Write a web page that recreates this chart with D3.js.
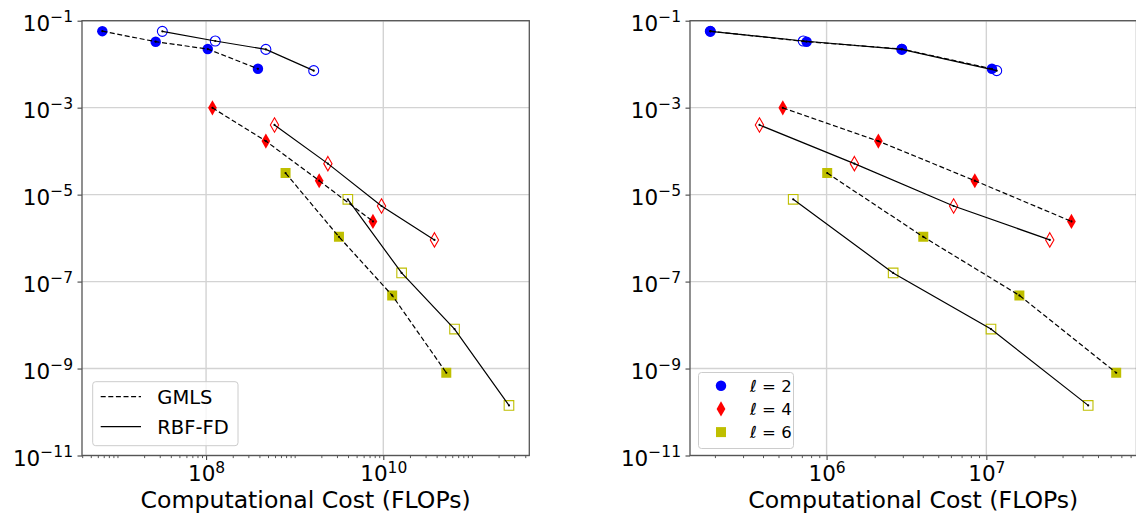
<!DOCTYPE html>
<html>
<head>
<meta charset="utf-8">
<script src="https://cdn.jsdelivr.net/npm/d3@7"></script>
<style>
  html, body { margin: 0; padding: 0; background: #fff; }
  svg { display: block; font-family: "DejaVu Sans", sans-serif; }
</style>
</head>
<body>
<svg id="chart" width="1136" height="514"></svg>
<script>
// ---------------- DATA ----------------
// error values (shared by both panels)
const errL2GMLS = [0.0575, 0.0329, 0.0223, 0.00783];
const errL2RBF  = [0.0569, 0.0341, 0.0219, 0.0071];
const errL4GMLS = [9.9e-4, 1.7e-4, 2.09e-5, 2.42e-6];
const errL4RBF  = [4.0e-4, 5.16e-5, 5.48e-6, 9.08e-7];
const errL6GMLS = [3.13e-5, 1.07e-6, 4.81e-8, 8.0e-10];
const errL6RBF  = [7.8e-6, 1.58e-7, 8.1e-9, 1.42e-10];

// left panel: computational cost (FLOPs)
const leftL2GMLS = [6.75e6, 2.70e7, 1.045e8, 3.85e8];
const leftL2RBF  = [3.21e7, 1.27e8, 4.73e8, 1.64e9];
const leftL4GMLS = [1.18e8, 4.73e8, 1.89e9, 7.64e9];
const leftL4RBF  = [5.92e8, 2.37e9, 9.55e9, 3.78e10];
const leftL6GMLS = [7.89e8, 3.16e9, 1.26e10, 5.14e10];
const leftL6RBF  = [3.98e9, 1.61e10, 6.37e10, 2.62e11];

// right panel: computational cost (FLOPs)
const rightL2GMLS = [1.871e5, 7.50e5, 2.958e6, 1.084e7];
const rightL2RBF  = [1.871e5, 7.145e5, 2.958e6, 1.161e7];
const rightL4GMLS = [5.32e5, 2.109e6, 8.47e6, 3.41e7];
const rightL4RBF  = [3.80e5, 1.493e6, 6.24e6, 2.495e7];
const rightL6GMLS = [1.009e6, 4.03e6, 1.61e7, 6.50e7];
const rightL6RBF  = [6.18e5, 2.61e6, 1.069e7, 4.34e7];

const yTickExps = [-1, -3, -5, -7, -9, -11];
const leftXTickExps = [8, 10];
const rightXTickExps = [6, 7];
const xLabel = "Computational Cost (FLOPs)";
const methodNames = ["GMLS", "RBF-FD"];
const levelNames = ["2", "4", "6"];

// ---------------- STYLE ----------------
const colors = { l2: "#0000ff", l4: "#ff0000", l6: "#bfbf00" };
const axTop = 20.7, axBottom = 455.5;

const svg = d3.select("#chart");

function seriesFor(xs) {
  return [
    { x: xs.L2GMLS, y: errL2GMLS, shape: "circle", color: colors.l2, filled: true,  dashed: true },
    { x: xs.L2RBF,  y: errL2RBF,  shape: "circle", color: colors.l2, filled: false, dashed: false },
    { x: xs.L4GMLS, y: errL4GMLS, shape: "diamond", color: colors.l4, filled: true,  dashed: true },
    { x: xs.L4RBF,  y: errL4RBF,  shape: "diamond", color: colors.l4, filled: false, dashed: false },
    { x: xs.L6GMLS, y: errL6GMLS, shape: "square", color: colors.l6, filled: true,  dashed: true },
    { x: xs.L6RBF,  y: errL6RBF,  shape: "square", color: colors.l6, filled: false, dashed: false }
  ];
}

const symbolTypes = { circle: d3.symbolCircle, diamond: d3.symbolDiamond, square: d3.symbolSquare };
const symbolSizes = { circle: 86, diamond: 66, square: 100 };
const symbolSizesOpen = { circle: 78, diamond: 60, square: 92 };

function drawPanel(opts) {
  const series = seriesFor(opts.xs);
  const allX = series.flatMap(s => s.x);
  const lmin = Math.log10(d3.min(allX)), lmax = Math.log10(d3.max(allX));
  const pad = (lmax - lmin) * 0.05;
  const x = d3.scaleLog().domain([Math.pow(10, lmin - pad), Math.pow(10, lmax + pad)]).range([opts.x0, opts.x1]);
  const y = d3.scaleLog().domain([1e-11, 1e-1]).range([axBottom, axTop]);

  const g = svg.append("g");
  const clipId = "clip" + opts.id;
  svg.append("clipPath").attr("id", clipId).append("rect")
    .attr("x", opts.x0).attr("y", axTop).attr("width", opts.x1 - opts.x0).attr("height", axBottom - axTop);

  // grid
  const majorX = opts.xTickExps.map(e => Math.pow(10, e));
  const yTicks = yTickExps.map(e => Math.pow(10, e));
  g.append("g").selectAll("line").data(majorX).join("line")
    .attr("x1", d => x(d)).attr("x2", d => x(d)).attr("y1", axTop).attr("y2", axBottom)
    .attr("stroke", "#d3d3d3").attr("stroke-width", 1.4);
  g.append("g").selectAll("line").data(yTicks).join("line")
    .attr("x1", opts.x0).attr("x2", opts.x1).attr("y1", d => y(d)).attr("y2", d => y(d))
    .attr("stroke", "#d3d3d3").attr("stroke-width", 1.4);

  // minor x ticks
  const [d0, d1] = x.domain();
  const minor = [];
  for (let n = Math.floor(Math.log10(d0)); n <= Math.ceil(Math.log10(d1)); n++) {
    for (let k = 1; k <= 9; k++) {
      const v = k * Math.pow(10, n);
      if (v >= d0 && v <= d1 && !(k === 1 && opts.xTickExps.includes(n))) minor.push(v);
    }
  }
  const axMinor = d3.axisBottom(x).tickValues(minor).tickSize(2.6).tickFormat("");
  const gm = g.append("g").attr("transform", `translate(0,${axBottom})`).call(axMinor);
  gm.select(".domain").remove();
  gm.selectAll("line").attr("stroke", "#444").attr("stroke-width", 0.9);

  // major x ticks
  const axX = d3.axisBottom(x).tickValues(majorX).tickSize(4.5).tickFormat("");
  const gx = g.append("g").attr("transform", `translate(0,${axBottom})`).call(axX);
  gx.select(".domain").remove();
  gx.selectAll("line").attr("stroke", "#444").attr("stroke-width", 1.1);
  gx.selectAll(".tick").each(function(d) {
    const t = d3.select(this).append("text")
      .attr("y", 25.5).attr("text-anchor", "middle").attr("fill", "#000")
      .style("font-family", "DejaVu Sans").style("font-size", "21.5px");
    t.append("tspan").text("10");
    t.append("tspan").attr("dy", -8).style("font-size", "15.5px")
      .text(String(Math.round(Math.log10(d))).replace("-", "\u2212"));
  });

  // y ticks
  const axY = d3.axisLeft(y).tickValues(yTicks).tickSize(4.5).tickFormat("");
  const gy = g.append("g").attr("transform", `translate(${opts.x0},0)`).call(axY);
  gy.select(".domain").remove();
  gy.selectAll("line").attr("stroke", "#444").attr("stroke-width", 1.1);
  gy.selectAll(".tick").each(function(d) {
    const t = d3.select(this).append("text")
      .attr("x", -9).attr("y", 9.5).attr("text-anchor", "end").attr("fill", "#000")
      .style("font-family", "DejaVu Sans").style("font-size", "21.5px");
    t.append("tspan").text("10");
    t.append("tspan").attr("dy", -8.5).style("font-size", "15.5px")
      .text(String(Math.round(Math.log10(d))).replace("-", "\u2212"));
  });

  // markers
  const pg = g.append("g").attr("clip-path", `url(#${clipId})`);
  series.forEach(s => {
    const sym = d3.symbol().type(symbolTypes[s.shape]).size(s.filled ? symbolSizes[s.shape] : symbolSizesOpen[s.shape]);
    pg.append("g").selectAll("path").data(s.x.map((xv, i) => [xv, s.y[i]])).join("path")
      .attr("transform", d => `translate(${x(d[0])},${y(d[1])})`)
      .attr("d", sym())
      .attr("fill", s.filled ? s.color : "none")
      .attr("stroke", s.color)
      .attr("stroke-width", s.filled ? 0 : 1.1);
  });
  // lines on top
  const line = d3.line().x(d => x(d[0])).y(d => y(d[1]));
  series.forEach(s => {
    const pts = s.x.map((xv, i) => [xv, s.y[i]]);
    pg.append("path").datum(pts).attr("d", line)
      .attr("fill", "none").attr("stroke", "#000").attr("stroke-width", 1.2)
      .attr("stroke-dasharray", s.dashed ? "5,2.6" : null);
    pg.append("g").selectAll("circle").data(pts).join("circle")
      .attr("cx", d => x(d[0])).attr("cy", d => y(d[1])).attr("r", 1.1).attr("fill", "#000");
  });

  // spines
  g.append("rect").attr("x", opts.x0).attr("y", axTop)
    .attr("width", opts.x1 - opts.x0).attr("height", axBottom - axTop)
    .attr("fill", "none").attr("stroke", "#555").attr("stroke-width", 1.3);

  // x label
  g.append("text").attr("x", (opts.x0 + opts.x1) / 2).attr("y", 508)
    .attr("text-anchor", "middle").style("font-size", "23.6px").attr("fill", "#000")
    .text(xLabel);
  return { x, y, g };
}

drawPanel({
  id: "L", x0: 82, x1: 529.3, xTickExps: leftXTickExps,
  xs: { L2GMLS: leftL2GMLS, L2RBF: leftL2RBF, L4GMLS: leftL4GMLS, L4RBF: leftL4RBF, L6GMLS: leftL6GMLS, L6RBF: leftL6RBF }
});
drawPanel({
  id: "R", x0: 690, x1: 1136.5, xTickExps: rightXTickExps,
  xs: { L2GMLS: rightL2GMLS, L2RBF: rightL2RBF, L4GMLS: rightL4GMLS, L4RBF: rightL4RBF, L6GMLS: rightL6GMLS, L6RBF: rightL6RBF }
});

// ---------------- LEGENDS ----------------
// left: line styles
const lg = svg.append("g");
lg.append("rect").attr("x", 92.7).attr("y", 381.7).attr("width", 145.3).attr("height", 64)
  .attr("rx", 3).attr("fill", "#fff").attr("fill-opacity", 0.8).attr("stroke", "#cccccc").attr("stroke-width", 1);
methodNames.forEach((name, i) => {
  const cy = 396.7 + i * 30;
  lg.append("line").attr("x1", 100.7).attr("x2", 141).attr("y1", cy).attr("y2", cy)
    .attr("stroke", "#000").attr("stroke-width", 1.2).attr("stroke-dasharray", i === 0 ? "5,2.6" : null);
  lg.append("text").attr("x", 157.3).attr("y", cy + 7.2).style("font-size", "19.5px").attr("fill", "#000").text(name);
});

// right: markers
const rg = svg.append("g");
rg.append("rect").attr("x", 698.5).attr("y", 372.5).attr("width", 95).attr("height", 76)
  .attr("rx", 3).attr("fill", "#fff").attr("fill-opacity", 0.8).attr("stroke", "#cccccc").attr("stroke-width", 1);
const legShapes = ["circle", "diamond", "square"];
const legColors = [colors.l2, colors.l4, colors.l6];
levelNames.forEach((lv, i) => {
  const cy = 385.7 + i * 23.2;
  rg.append("path").attr("transform", `translate(721,${cy})`)
    .attr("d", d3.symbol().type(symbolTypes[legShapes[i]]).size(symbolSizes[legShapes[i]])())
    .attr("fill", legColors[i]);
  const t = rg.append("text").attr("x", 750).attr("y", cy + 6).style("font-size", "16.5px").attr("fill", "#000");
  t.append("tspan").style("font-style", "italic").text("\u2113");
  t.append("tspan").text(" = " + lv);
});
</script>
</body>
</html>
